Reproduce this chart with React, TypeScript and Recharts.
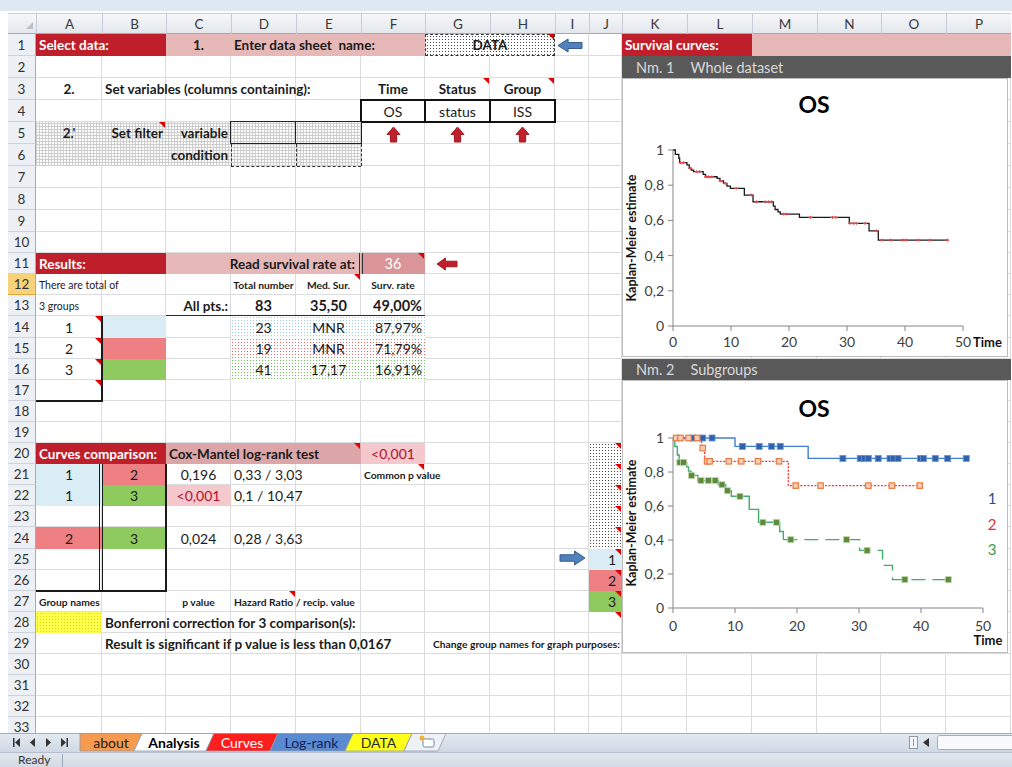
import React from 'react';
import { ComposedChart, Line, XAxis, YAxis } from 'recharts';

const FONT = 'Lato, "Open Sans", sans-serif';

// ===== Chart data =====
const timeTicks = [0, 10, 20, 30, 40, 50];
const survTicks = [0, 0.2, 0.4, 0.6, 0.8, 1];

// Nm. 1 – whole dataset (OS)
const wholeTimes = [0, 0.4, 1.0, 1.15, 2.4, 2.8, 3.15, 3.55, 5.2, 5.6, 7.6, 8.1, 8.7, 9.3, 9.9, 12.3, 13.8, 17.3, 17.6, 18.1, 18.5, 21.8, 30.4, 33.8, 35.4, 47.3];
const wholeSurv = [1, 0.975, 0.953, 0.928, 0.915, 0.896, 0.886, 0.877, 0.861, 0.848, 0.839, 0.825, 0.81, 0.795, 0.782, 0.744, 0.706, 0.681, 0.662, 0.649, 0.636, 0.617, 0.583, 0.541, 0.488, 0.488];
const wholeCensTimes = [1.3, 1.8, 3.0, 4.1, 4.6, 5.7, 6.1, 6.7, 8.2, 9.0, 10.9, 13.5, 14.4, 15.9, 16.5, 17.0, 19.0, 19.6, 23.7, 27.5, 28.1, 30.5, 31.1, 31.6, 33.1, 35.1, 36.0, 37.5, 39.6, 40.2, 42.3, 44.3, 47.3];
const wholeCensSurv = [0.928, 0.928, 0.896, 0.877, 0.877, 0.848, 0.848, 0.848, 0.825, 0.81, 0.782, 0.744, 0.706, 0.706, 0.706, 0.706, 0.636, 0.636, 0.617, 0.617, 0.617, 0.583, 0.583, 0.583, 0.583, 0.541, 0.488, 0.488, 0.488, 0.488, 0.488, 0.488, 0.488];

// Nm. 2 – subgroups
const g1Times = [0, 10.0, 21.8, 47.3];
const g1Surv = [1, 0.951, 0.88, 0.88];
const g1CensTimes = [3.2, 4.8, 6.3, 11.2, 13.9, 15.9, 17.3, 27.4, 30.2, 30.9, 31.5, 33.1, 35.0, 35.6, 36.3, 39.9, 40.4, 42.3, 44.3, 47.3];
const g1CensSurv = [1, 1, 1, 0.951, 0.951, 0.951, 0.951, 0.88, 0.88, 0.88, 0.88, 0.88, 0.88, 0.88, 0.88, 0.88, 0.88, 0.88, 0.88, 0.88];

const g2Times = [0, 4.6, 5.1, 18.6, 39.8];
const g2Surv = [1, 0.941, 0.863, 0.72, 0.72];
const g2CensTimes = [0.5, 1.2, 2.5, 3.9, 4.8, 5.5, 5.9, 9.0, 11.0, 13.7, 17.1, 19.8, 23.8, 31.5, 35.3, 39.8];
const g2CensSurv = [1, 1, 1, 1, 0.941, 0.863, 0.863, 0.863, 0.863, 0.863, 0.863, 0.72, 0.72, 0.72, 0.72, 0.72];

const g3Times = [0, 0.3, 0.7, 1.0, 2.2, 2.5, 2.9, 4.0, 7.3, 8.5, 9.4, 12.3, 13.8, 17.2, 17.8, 30.1, 33.8, 35.4, 44.4];
const g3Surv = [1, 0.95, 0.9, 0.857, 0.83, 0.805, 0.78, 0.75, 0.725, 0.69, 0.657, 0.58, 0.504, 0.45, 0.402, 0.339, 0.251, 0.167, 0.167];
const g3DashFrom = 17.8;
const g3CensTimes = [1.1, 1.7, 3.0, 4.5, 5.7, 6.8, 7.9, 8.8, 10.8, 14.5, 16.7, 19.0, 28.0, 31.3, 37.4, 44.4];
const g3CensSurv = [0.857, 0.857, 0.78, 0.75, 0.75, 0.75, 0.725, 0.69, 0.657, 0.504, 0.504, 0.402, 0.402, 0.339, 0.167, 0.167];

const groupNames = ['1', '2', '3'];

const zip = (ts: number[], ss: number[]) => ts.map((t, i) => ({ t, s: ss[i] }));
const decimal = (v: number) => String(v).replace('.', ',');

// ===== Sheet geometry =====
const COLS = [36, 102, 166, 231, 296, 361, 425, 490, 555, 589, 622, 687, 752, 817, 881, 946, 1011];
const LETTERS = 'ABCDEFGHIJKLMNOP'.split('');
const rowTop = (r: number) => Math.round(r <= 10 ? 34 + (r - 1) * 22 : 232 + (r - 10) * 21.1);
const ci = (c: string) => LETTERS.indexOf(c);

const RED = '#BF1F2B';
const PINK = '#E6B8B8';
const PINK2 = '#DCA5A7';
const LPINK = '#F5C8CD';
const LBLUE = '#DAEDF4';
const REDC = '#EE7F83';
const GREENC = '#8FCA5F';
const dots = (c: string, bg = '#fff') => `radial-gradient(circle, ${c} 0.7px, transparent 1px) 0 0 / 3px 3px, ${bg}`;
const CROSS = 'repeating-linear-gradient(0deg, #CDCDCD 0 1px, transparent 1px 3px), repeating-linear-gradient(90deg, #CDCDCD 0 1px, transparent 1px 3px), #fff';

function Cell({ c, r, c2, r2, children, style, align = 'left' }: any) {
  const x0 = COLS[ci(c)], x1 = COLS[ci(c2 || c) + 1];
  const y0 = rowTop(r), y1 = rowTop((r2 || r) + 1);
  return (
    <div style={{
      position: 'absolute', left: x0, top: y0, width: x1 - x0, height: y1 - y0,
      display: 'flex', alignItems: 'center',
      justifyContent: align === 'left' ? 'flex-start' : align === 'right' ? 'flex-end' : 'center',
      padding: '0 3px', boxSizing: 'border-box', whiteSpace: 'pre',
      fontFamily: FONT, fontSize: 13.5, fontWeight: 700, color: '#1b1b1b', ...style,
    }}>{children}</div>
  );
}

function Tri({ c, r }: any) {
  const x1 = COLS[ci(c) + 1];
  const y0 = rowTop(r);
  return <div style={{ position: 'absolute', left: x1 - 7, top: y0, width: 0, height: 0, borderTop: '6px solid #E00000', borderLeft: '6px solid transparent' }} />;
}

function HLine({ x0, x1, y, w = 1, color = '#1a1a1a', dashed = false }: any) {
  return <div style={{ position: 'absolute', left: x0, top: y - w / 2, width: x1 - x0, height: 0, borderTop: `${w}px ${dashed ? 'dashed' : 'solid'} ${color}` }} />;
}
function VLine({ x, y0, y1, w = 1, color = '#1a1a1a', dashed = false }: any) {
  return <div style={{ position: 'absolute', left: x - w / 2, top: y0, width: 0, height: y1 - y0, borderLeft: `${w}px ${dashed ? 'dashed' : 'solid'} ${color}` }} />;
}

function Arrow({ x, y, w, h, dir, fill, stroke }: any) {
  let pts = '';
  if (dir === 'left') {
    const hw = w * 0.42;
    pts = `0,${h / 2} ${hw},0 ${hw},${h * 0.27} ${w},${h * 0.27} ${w},${h * 0.73} ${hw},${h * 0.73} ${hw},${h}`;
  } else if (dir === 'right') {
    const hw = w * 0.58;
    pts = `${w},${h / 2} ${hw},0 ${hw},${h * 0.27} 0,${h * 0.27} 0,${h * 0.73} ${hw},${h * 0.73} ${hw},${h}`;
  } else {
    const hh = h * 0.5;
    pts = `${w / 2},0 ${w},${hh} ${w * 0.74},${hh} ${w * 0.74},${h} ${w * 0.26},${h} ${w * 0.26},${hh} 0,${hh}`;
  }
  return (
    <svg style={{ position: 'absolute', left: x, top: y, overflow: 'visible' }} width={w} height={h}>
      <polygon points={pts} fill={fill} stroke={stroke} strokeWidth={1} strokeLinejoin="round" />
    </svg>
  );
}

function Grid() {
  const lines: any[] = [];
  for (let i = 1; i < COLS.length; i++) {
    lines.push(<div key={'v' + i} style={{ position: 'absolute', left: COLS[i] - 1, top: 34, width: 1, height: 733 - 34, background: '#DADCDF' }} />);
  }
  for (let r = 2; r <= 34; r++) {
    lines.push(<div key={'h' + r} style={{ position: 'absolute', left: 36, top: rowTop(r) - 1, width: 1011 - 36, height: 1, background: '#DADCDF' }} />);
  }
  return <>{lines}</>;
}

function Headers() {
  const items: any[] = [];
  items.push(<div key="hdr" style={{ position: 'absolute', left: 8, top: 13, width: 1003, height: 21, background: 'linear-gradient(#F6F7F9, #E3E7EC)', borderTop: '1px solid #C9CFD7', borderBottom: '1px solid #9EABBB', boxSizing: 'border-box' }} />);
  items.push(<div key="corner" style={{ position: 'absolute', left: 26, top: 22, width: 0, height: 0, borderBottom: '7px solid #B8BFC8', borderLeft: '7px solid transparent' }} />);
  LETTERS.forEach((L, i) => {
    items.push(<div key={'c' + L} style={{ position: 'absolute', left: COLS[i], top: 13, width: COLS[i + 1] - COLS[i], height: 21, borderLeft: '1px solid #C5CCD5', boxSizing: 'border-box', display: 'flex', alignItems: 'center', justifyContent: 'center', fontFamily: FONT, fontSize: 13.5, color: '#3a3a3a' }}>{L}</div>);
  });
  for (let r = 1; r <= 33; r++) {
    const sel = r === 12;
    items.push(<div key={'r' + r} style={{ position: 'absolute', left: 8, top: rowTop(r), width: 28, height: rowTop(r + 1) - rowTop(r), background: sel ? '#F7D27A' : '#EDF0F4', borderBottom: '1px solid ' + (sel ? '#E2A83A' : '#CDD3DB'), borderRight: '1px solid #9EABBB', boxSizing: 'border-box', display: 'flex', alignItems: 'center', justifyContent: 'center', fontFamily: FONT, fontSize: 13.5, color: '#333' }}>{r}</div>);
  }
  return <>{items}</>;
}

function SheetCells() {
  const small = { fontSize: 10.3 };
  const reg = { fontWeight: 400, fontSize: 14 };
  const tris: any[] = [['H', 1], ['G', 3], ['H', 3], ['B', 5], ['F', 11], ['E', 12], ['A', 14], ['A', 15], ['A', 16], ['A', 17], ['E', 20], ['F', 21], ['D', 27], ['J', 20], ['J', 21], ['J', 22], ['J', 23], ['J', 24], ['J', 25], ['J', 26], ['J', 27], ['J', 28]];
  return (
    <>
      {/* Row 1 */}
      <Cell c="A" c2="B" r={1} style={{ background: RED, color: '#fff' }}>Select data:</Cell>
      <Cell c="C" c2="F" r={1} style={{ background: PINK }} />
      <Cell c="C" r={1} align="center">1.</Cell>
      <Cell c="D" r={1}>Enter data sheet  name:</Cell>
      <Cell c="G" c2="H" r={1} align="center" style={{ background: dots('#4a4a4a'), border: '1px dashed #333' }}>DATA</Cell>
      <Arrow x={558} y={39} w={24} h={13} dir="left" fill="#4F81BD" stroke="#385D8A" />
      <Cell c="K" c2="L" r={1} style={{ background: RED, color: '#fff' }}>Survival curves:</Cell>
      <Cell c="M" c2="P" r={1} style={{ background: PINK }} />
      {/* Row 2 */}
      <Cell c="K" c2="P" r={2} style={{ background: '#595959', color: '#D9D9D9', fontWeight: 400, fontSize: 14.5 }}>
        <span style={{ marginLeft: 11 }}>Nm. 1</span><span style={{ marginLeft: 16 }}>Whole dataset</span>
      </Cell>
      {/* Row 3-4 */}
      <Cell c="A" r={3} align="center">2.</Cell>
      <Cell c="B" r={3}>Set variables (columns containing):</Cell>
      <Cell c="F" r={3} align="center">Time</Cell>
      <Cell c="G" r={3} align="center">Status</Cell>
      <Cell c="H" r={3} align="center">Group</Cell>
      <Cell c="F" r={4} align="center" style={reg}>OS</Cell>
      <Cell c="G" r={4} align="center" style={reg}>status</Cell>
      <Cell c="H" r={4} align="center" style={reg}>ISS</Cell>
      <div style={{ position: 'absolute', left: 360, top: rowTop(4) - 1, width: 196, height: 24, border: '2px solid #111', boxSizing: 'border-box' }} />
      <VLine x={425} y0={rowTop(4)} y1={rowTop(5)} w={2} color="#111" />
      <VLine x={490} y0={rowTop(4)} y1={rowTop(5)} w={2} color="#111" />
      {/* Row 5-6 */}
      <Cell c="A" c2="C" r={5} r2={6} style={{ background: CROSS }} />
      <Cell c="D" c2="E" r={5} r2={6} style={{ background: CROSS }} />
      <Cell c="A" r={5} align="center">2.'</Cell>
      <Cell c="B" r={5} align="right">Set filter</Cell>
      <Cell c="C" r={5} align="right">variable</Cell>
      <Cell c="C" r={6} align="right">condition</Cell>
      <div style={{ position: 'absolute', left: 230, top: rowTop(5) - 1, width: 132, height: rowTop(6) - rowTop(5) + 1, border: '1.5px solid #222', boxSizing: 'border-box' }} />
      <VLine x={296} y0={rowTop(5)} y1={rowTop(6)} w={1.5} color="#222" />
      <VLine x={231} y0={rowTop(6)} y1={rowTop(7)} w={1} color="#333" dashed />
      <VLine x={296} y0={rowTop(6)} y1={rowTop(7)} w={1} color="#333" dashed />
      <VLine x={361} y0={rowTop(6)} y1={rowTop(7)} w={1} color="#333" dashed />
      <HLine x0={231} x1={361} y={rowTop(7)} w={1} color="#333" dashed />
      <Arrow x={387} y={127} w={13} h={15} dir="up" fill="#C0202C" stroke="#A01820" />
      <Arrow x={451} y={127} w={13} h={15} dir="up" fill="#C0202C" stroke="#A01820" />
      <Arrow x={516} y={127} w={13} h={15} dir="up" fill="#C0202C" stroke="#A01820" />
      {/* Row 11 */}
      <Cell c="A" c2="B" r={11} style={{ background: RED, color: '#fff' }}>Results:</Cell>
      <Cell c="C" c2="E" r={11} align="right" style={{ background: PINK, paddingRight: 6 }}>Read survival rate at:</Cell>
      <Cell c="F" r={11} align="center" style={{ background: '#D99597', color: '#fff', fontWeight: 400, fontSize: 14.5 }}>36</Cell>
      <VLine x={360} y0={rowTop(11)} y1={rowTop(12)} w={1.3} color="#333" />
      <VLine x={363} y0={rowTop(11)} y1={rowTop(12)} w={1.3} color="#333" />
      <Arrow x={437} y={258} w={20} h={12} dir="left" fill="#C0202C" stroke="#A01820" />
      {/* Row 12-13 */}
      <Cell c="A" r={12} style={{ fontWeight: 400, fontSize: 10.5 }}>There are total of</Cell>
      <Cell c="D" r={12} align="center" style={small}>Total number</Cell>
      <Cell c="E" r={12} align="center" style={small}>Med. Sur.</Cell>
      <Cell c="F" r={12} align="center" style={small}>Surv. rate</Cell>
      <Cell c="A" r={13} style={{ fontWeight: 400, fontSize: 10.5 }}>3 groups</Cell>
      <Cell c="C" r={13} align="right">All pts.:</Cell>
      <Cell c="D" r={13} align="center" style={{ fontSize: 14.5 }}>83</Cell>
      <Cell c="E" r={13} align="center" style={{ fontSize: 14.5 }}>35,50</Cell>
      <Cell c="F" r={13} align="right" style={{ fontSize: 14.5 }}>49,00%</Cell>
      <HLine x0={166} x1={425} y={rowTop(14)} w={1.5} color="#2a2a2a" />
      {/* Rows 14-17 */}
      <Cell c="B" r={14} style={{ background: LBLUE }} />
      <Cell c="B" r={15} style={{ background: REDC }} />
      <Cell c="B" r={16} style={{ background: GREENC }} />
      <Cell c="D" c2="F" r={14} style={{ background: dots('#9CCEE3') }} />
      <Cell c="D" c2="F" r={15} style={{ background: dots('#EF6464') }} />
      <Cell c="D" c2="F" r={16} style={{ background: dots('#74C05C') }} />
      <Cell c="A" r={14} align="center" style={reg}>1</Cell>
      <Cell c="A" r={15} align="center" style={reg}>2</Cell>
      <Cell c="A" r={16} align="center" style={reg}>3</Cell>
      <Cell c="D" r={14} align="center" style={reg}>23</Cell>
      <Cell c="E" r={14} align="center" style={reg}>MNR</Cell>
      <Cell c="F" r={14} align="right" style={reg}>87,97%</Cell>
      <Cell c="D" r={15} align="center" style={reg}>19</Cell>
      <Cell c="E" r={15} align="center" style={reg}>MNR</Cell>
      <Cell c="F" r={15} align="right" style={reg}>71,79%</Cell>
      <Cell c="D" r={16} align="center" style={reg}>41</Cell>
      <Cell c="E" r={16} align="center" style={reg}>17,17</Cell>
      <Cell c="F" r={16} align="right" style={reg}>16,91%</Cell>
      <VLine x={102} y0={rowTop(14)} y1={rowTop(18)} w={2} color="#1a1a1a" />
      <HLine x0={36} x1={103} y={rowTop(18)} w={2} color="#1a1a1a" />
      {/* Row 20 */}
      <Cell c="A" c2="B" r={20} style={{ background: RED, color: '#fff' }}>Curves comparison:</Cell>
      <Cell c="C" c2="E" r={20} style={{ background: PINK2 }}>Cox-Mantel log-rank test</Cell>
      <Cell c="F" r={20} align="center" style={{ background: LPINK, color: '#B0102A', fontWeight: 400, fontSize: 14 }}>{'<0,001'}</Cell>
      {/* Rows 21-26 */}
      <Cell c="A" r={21} align="center" style={{ ...reg, background: LBLUE }}>{groupNames[0]}</Cell>
      <Cell c="B" r={21} align="center" style={{ ...reg, background: REDC }}>{groupNames[1]}</Cell>
      <Cell c="C" r={21} align="center" style={reg}>0,196</Cell>
      <Cell c="D" r={21} style={reg}>0,33 / 3,03</Cell>
      <Cell c="F" r={21} style={small}>Common p value</Cell>
      <Cell c="A" r={22} align="center" style={{ ...reg, background: LBLUE }}>{groupNames[0]}</Cell>
      <Cell c="B" r={22} align="center" style={{ ...reg, background: GREENC }}>{groupNames[2]}</Cell>
      <Cell c="C" r={22} align="center" style={{ ...reg, background: LPINK, color: '#B0102A' }}>{'<0,001'}</Cell>
      <Cell c="D" r={22} style={reg}>0,1 / 10,47</Cell>
      <Cell c="A" r={24} align="center" style={{ ...reg, background: REDC }}>{groupNames[1]}</Cell>
      <Cell c="B" r={24} align="center" style={{ ...reg, background: GREENC }}>{groupNames[2]}</Cell>
      <Cell c="C" r={24} align="center" style={reg}>0,024</Cell>
      <Cell c="D" r={24} style={reg}>0,28 / 3,63</Cell>
      <VLine x={100} y0={rowTop(21)} y1={rowTop(27)} w={1.2} color="#1a1a1a" />
      <VLine x={103} y0={rowTop(21)} y1={rowTop(27)} w={1.2} color="#1a1a1a" />
      <VLine x={166} y0={rowTop(21)} y1={rowTop(27)} w={2} color="#1a1a1a" />
      <HLine x0={36} x1={167} y={rowTop(27)} w={2} color="#1a1a1a" />
      {/* Rows 27-29 */}
      <Cell c="A" r={27} style={small}>Group names</Cell>
      <Cell c="C" r={27} align="center" style={small}>p value</Cell>
      <Cell c="D" r={27} style={small}>Hazard Ratio / recip. value</Cell>
      <Cell c="A" r={28} style={{ background: dots('#D9D900', '#FFFF4D') }} />
      <Cell c="B" r={28}>Bonferroni correction for 3 comparison(s):</Cell>
      <Cell c="B" r={29}>Result is significant if p value is less than 0,0167</Cell>
      <Cell c="J" r={29} align="right" style={{ fontSize: 10.3, paddingRight: 2 }}>Change group names for graph purposes:</Cell>
      {/* Column J group name editor */}
      <Cell c="J" r={20} r2={24} style={{ background: dots('#4a4a4a') }} />
      <Cell c="J" r={25} align="right" style={{ ...reg, background: LBLUE, paddingRight: 6 }}>{groupNames[0]}</Cell>
      <Cell c="J" r={26} align="right" style={{ ...reg, background: REDC, paddingRight: 6 }}>{groupNames[1]}</Cell>
      <Cell c="J" r={27} align="right" style={{ ...reg, background: GREENC, paddingRight: 6 }}>{groupNames[2]}</Cell>
      <Arrow x={560} y={551} w={25} h={14} dir="right" fill="#4F81BD" stroke="#385D8A" />
      {tris.map(([c, r]: any) => <Tri key={c + r} c={c} r={r} />)}
    </>
  );
}

// ===== Marks =====
function PlusMark(p: any) {
  const { cx, cy, index } = p;
  if (cx == null || cy == null) return <g key={'pm' + index} />;
  return (
    <g key={'pm' + index}>
      <line x1={cx - 2} x2={cx + 2} y1={cy} y2={cy} stroke="#E5484D" strokeWidth={1.3} />
      <line x1={cx} x2={cx} y1={cy - 1.5} y2={cy + 1.5} stroke="#E5484D" strokeWidth={1} />
    </g>
  );
}
const squareMark = (fill: string, stroke: string, size: number, sw: number) => (p: any) => {
  const { cx, cy, index } = p;
  if (cx == null || cy == null) return <g key={'sq' + index} />;
  return <rect key={'sq' + index} x={cx - size / 2} y={cy - size / 2} width={size} height={size} fill={fill} stroke={stroke} strokeWidth={sw} />;
};

const tickStyle = { fontSize: 14, fill: '#404040', fontFamily: FONT };

function tick1(p: any) {
  const { x, y, payload } = p;
  return (
    <g>
      <text x={x} y={y} dy={10} textAnchor="middle" fontSize={14} fill="#404040" fontFamily={FONT}>{payload.value}</text>
      {payload.value === 50 && <text x={x + 10} y={y} dy={10} textAnchor="start" fontSize={13} fontWeight={700} fill="#111" fontFamily={FONT}>Time</text>}
    </g>
  );
}
function tick2(p: any) {
  const { x, y, payload } = p;
  return (
    <g>
      <text x={x} y={y} dy={10} textAnchor="middle" fontSize={14} fill="#404040" fontFamily={FONT}>{payload.value}</text>
      {payload.value === 50 && <text x={x + 5} y={y} dy={24} textAnchor="middle" fontSize={13} fontWeight={700} fill="#111" fontFamily={FONT}>Time</text>}
    </g>
  );
}

const yLabel = { value: 'Kaplan-Meier estimate', angle: -90, position: 'insideLeft', offset: -1, style: { textAnchor: 'middle', fontSize: 12.5, fontWeight: 700, fill: '#111', fontFamily: FONT } };

function Chart1() {
  const line = zip(wholeTimes, wholeSurv);
  const cens = zip(wholeCensTimes, wholeCensSurv);
  return (
    <div style={{ position: 'absolute', left: 622, top: 78, width: 386, height: 279, background: '#fff', border: '1px solid #BDBDBD', boxSizing: 'border-box' }}>
      <div style={{ position: 'absolute', left: 0, width: 382, top: 12, textAlign: 'center', fontFamily: FONT, fontWeight: 700, fontSize: 23, lineHeight: '26px', color: '#000' }}>OS</div>
      <ComposedChart width={384} height={277} margin={{ top: 71, right: 44, bottom: 10, left: 10 }}>
        <XAxis type="number" dataKey="t" domain={[0, 50]} ticks={timeTicks} interval={0} tick={tick1} height={20} tickSize={5} tickMargin={6} stroke="#868686" />
        <YAxis type="number" domain={[0, 1]} ticks={survTicks} interval={0} tickFormatter={decimal} width={40} tickSize={5} tickMargin={4} stroke="#868686" tick={tickStyle} label={yLabel as any} />
        <Line data={line} dataKey="s" type="stepAfter" stroke="#1a1a1a" strokeWidth={1.3} dot={false} activeDot={false} isAnimationActive={false} />
        <Line data={cens} dataKey="s" stroke="none" dot={PlusMark} activeDot={false} legendType="none" isAnimationActive={false} />
      </ComposedChart>
    </div>
  );
}

function Chart2() {
  const l1 = zip(g1Times, g1Surv);
  const l2 = zip(g2Times, g2Surv);
  const l3 = zip(g3Times, g3Surv);
  const l3solid = l3.filter((d) => d.t <= g3DashFrom);
  const l3dash = l3.filter((d) => d.t >= g3DashFrom);
  const c1 = zip(g1CensTimes, g1CensSurv);
  const c2 = zip(g2CensTimes, g2CensSurv);
  const c3 = zip(g3CensTimes, g3CensSurv);
  const legendColors = ['#1F4E9A', '#E5302A', '#3C9C48'];
  return (
    <div style={{ position: 'absolute', left: 622, top: 380, width: 386, height: 273, background: '#fff', border: '1px solid #BDBDBD', boxSizing: 'border-box' }}>
      <div style={{ position: 'absolute', left: 0, width: 382, top: 14, textAlign: 'center', fontFamily: FONT, fontWeight: 700, fontSize: 23, lineHeight: '26px', color: '#000' }}>OS</div>
      <ComposedChart width={384} height={271} margin={{ top: 57, right: 24, bottom: 24, left: 10 }}>
        <XAxis type="number" dataKey="t" domain={[0, 50]} ticks={timeTicks} interval={0} tick={tick2} height={20} tickSize={5} tickMargin={8} stroke="#868686" />
        <YAxis type="number" domain={[0, 1]} ticks={survTicks} interval={0} tickFormatter={decimal} width={40} tickSize={5} tickMargin={4} stroke="#868686" tick={tickStyle} label={yLabel as any} />
        <Line data={l1} dataKey="s" type="stepAfter" stroke="#3F7FD0" strokeWidth={1.4} dot={false} activeDot={false} isAnimationActive={false} />
        <Line data={l2} dataKey="s" type="stepAfter" stroke="#FF2D2D" strokeWidth={1.3} strokeDasharray="2 1.5" dot={false} activeDot={false} isAnimationActive={false} />
        <Line data={l3solid} dataKey="s" type="stepAfter" stroke="#45AA6E" strokeWidth={1.4} dot={false} activeDot={false} isAnimationActive={false} />
        <Line data={l3dash} dataKey="s" type="stepAfter" stroke="#45AA6E" strokeWidth={1.4} strokeDasharray="14 7" dot={false} activeDot={false} isAnimationActive={false} />
        <Line data={c1} dataKey="s" stroke="none" dot={squareMark('#2F62AE', '#6C95D2', 6, 0.8)} activeDot={false} legendType="none" isAnimationActive={false} />
        <Line data={c2} dataKey="s" stroke="none" dot={squareMark('#F8CDB3', '#E97B45', 5.5, 1.2)} activeDot={false} legendType="none" isAnimationActive={false} />
        <Line data={c3} dataKey="s" stroke="none" dot={squareMark('#5E8A3A', '#BFD8AE', 6, 0.8)} activeDot={false} legendType="none" isAnimationActive={false} />
      </ComposedChart>
      {groupNames.map((g, i) => (
        <div key={g} style={{ position: 'absolute', left: 362, top: 108 + i * 25.5, width: 14, textAlign: 'center', fontFamily: FONT, fontSize: 15, lineHeight: '18px', color: legendColors[i] }}>{g}</div>
      ))}
    </div>
  );
}

function TabBar() {
  const tabs = [
    { x0: 80, x1: 134, fill: '#F59A4E', text: 'about', color: '#1a1a1a', bold: false },
    { x0: 134, x1: 206, fill: '#FFFFFF', text: 'Analysis', color: '#000', bold: true },
    { x0: 206, x1: 270, fill: '#FF1E1E', text: 'Curves', color: '#fff', bold: false },
    { x0: 270, x1: 345, fill: '#5A8AD0', text: 'Log-rank', color: '#14235A', bold: false },
    { x0: 345, x1: 404, fill: '#FFFF1A', text: 'DATA', color: '#2a2a2a', bold: false },
    { x0: 404, x1: 438, fill: '#EEF2F7', text: '', color: '#000', bold: false },
  ];
  const s = 8;
  return (
    <svg style={{ position: 'absolute', left: 0, top: 733 }} width={1012} height={19}>
      <defs>
        <linearGradient id="tb" x1="0" y1="0" x2="0" y2="1"><stop offset="0" stopColor="#E4EAF1" /><stop offset="1" stopColor="#CFD8E3" /></linearGradient>
      </defs>
      <rect x={0} y={0} width={1012} height={19} fill="url(#tb)" />
      <line x1={0} x2={1012} y1={0.5} y2={0.5} stroke="#9FAEC1" />
      <rect x={13} y={5} width={1.5} height={9} fill="#333" />
      <polygon points="15,9.5 20,5 20,14" fill="#333" />
      <polygon points="30,9.5 35,5 35,14" fill="#333" />
      <polygon points="51,9.5 46,5 46,14" fill="#333" />
      <polygon points="66,9.5 61,5 61,14" fill="#333" />
      <rect x={66.5} y={5} width={1.5} height={9} fill="#333" />
      {tabs.map((t, i) => (
        <g key={i}>
          <polygon points={`${i === 0 ? t.x0 : t.x0 + s},0.5 ${t.x1 + s},0.5 ${t.x1},18 ${t.x0},18`} fill={t.fill} stroke="#8E9BAE" strokeWidth={0.8} />
          {t.text && <text x={(t.x0 + t.x1) / 2 + 4} y={14.5} textAnchor="middle" fontFamily={FONT} fontSize={14} fontWeight={t.bold ? 700 : 400} fill={t.color}>{t.text}</text>}
        </g>
      ))}
      <rect x={423} y={6} width={11} height={8} rx={1.5} fill="#fff" stroke="#6F87A8" />
      <circle cx={422} cy={5} r={2.5} fill="#F2B32E" />
      <rect x={909.5} y={3.5} width={8} height={12} fill="#F4F6F9" stroke="#8C98A8" />
      <line x1={913.5} x2={913.5} y1={6} y2={13} stroke="#8C98A8" />
      <polygon points="923,9.5 929,5 929,14" fill="#333" />
      <rect x={937.5} y={2.5} width={80} height={14} rx={2} fill="#F7F9FB" stroke="#A3AEBD" />
    </svg>
  );
}

function StatusBar() {
  return (
    <div style={{ position: 'absolute', left: 0, top: 752, width: 1012, height: 15, background: 'linear-gradient(#E2E7EE, #D3DAE4)', borderTop: '1px solid #B7C1CE', boxSizing: 'border-box' }}>
      <div style={{ position: 'absolute', left: 18, top: 0, fontFamily: FONT, fontSize: 12, lineHeight: '14px', color: '#333' }}>Ready</div>
      <div style={{ position: 'absolute', left: 62, top: 1, width: 1, height: 13, background: '#9CA8B8' }} />
    </div>
  );
}

export default function App() {
  return (
    <div style={{ position: 'fixed', left: 0, top: 0, width: 1012, height: 767, overflow: 'hidden', background: '#fff', fontFamily: FONT }}>
      <div style={{ position: 'absolute', left: 0, top: 0, width: 1012, height: 11, background: '#DEE8F3' }} />
      <Grid />
      <Headers />
      <SheetCells />
      <Cell c="K" c2="P" r={16} style={{ background: '#595959', color: '#D9D9D9', fontWeight: 400, fontSize: 14.5 }}>
        <span style={{ marginLeft: 11 }}>Nm. 2</span><span style={{ marginLeft: 16 }}>Subgroups</span>
      </Cell>
      <Chart1 />
      <Chart2 />
      <TabBar />
      <StatusBar />
    </div>
  );
}
